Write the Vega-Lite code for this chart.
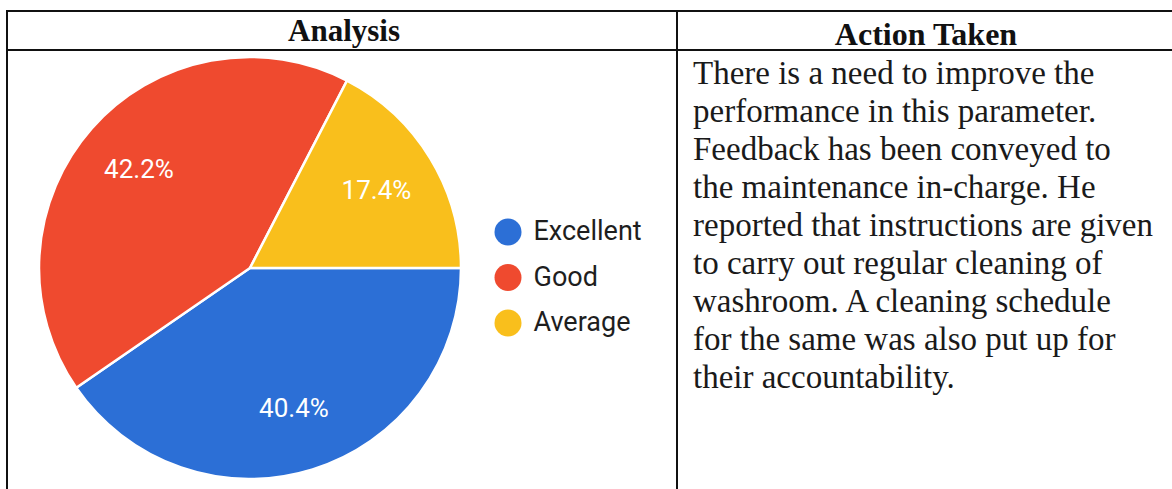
{
  "$schema": "https://vega.github.io/schema/vega-lite/v6.json",
  "padding": {"left": 6, "top": 10, "right": 0, "bottom": 0},
  "background": "white",
  "columns": 2,
  "spacing": 0,
  "bounds": "flush",
  "config": {"view": {"stroke": "#111111", "strokeWidth": 2}},
  "resolve": {
    "scale": {"color": "independent", "theta": "independent", "x": "independent", "y": "independent"},
    "legend": {"color": "independent"}
  },
  "concat": [
    {
      "width": 670,
      "height": 39,
      "data": {"values": [{"h": "Analysis"}]},
      "mark": {"type": "text", "font": "Liberation Serif", "fontWeight": "bold", "fontSize": 31, "color": "#111111", "baseline": "alphabetic"},
      "encoding": {"text": {"field": "h"}, "x": {"value": 337}, "y": {"value": 30}}
    },
    {
      "width": 500,
      "height": 39,
      "data": {"values": [{"h": "Action Taken"}]},
      "mark": {"type": "text", "font": "Liberation Serif", "fontWeight": "bold", "fontSize": 32, "color": "#111111", "baseline": "alphabetic"},
      "encoding": {"text": {"field": "h"}, "x": {"value": 249}, "y": {"value": 34}}
    },
    {
      "width": 670,
      "height": 446,
      "data": {
        "values": [
          {"cat": "Excellent", "pct": 0.404, "rank": 1},
          {"cat": "Good", "pct": 0.422, "rank": 2},
          {"cat": "Average", "pct": 0.174, "rank": 3}
        ]
      },
      "encoding": {
        "theta": {"field": "pct", "type": "quantitative", "stack": true, "scale": {"range": [1.5708, 7.854]}},
        "order": {"field": "rank", "type": "quantitative"},
        "color": {
          "field": "cat",
          "type": "nominal",
          "scale": {"domain": ["Excellent", "Good", "Average"], "range": ["#2c6fd6", "#ef4a2f", "#f9bf1c"]},
          "legend": {
            "orient": "none",
            "legendX": 487.5,
            "legendY": 168.5,
            "title": null,
            "symbolType": "circle",
            "symbolSize": 729,
            "symbolStrokeWidth": 0,
            "labelFont": "Roboto",
            "labelFontSize": 27,
            "labelColor": "#1e1e1e",
            "labelOffset": 12,
            "rowPadding": 17.5,
            "padding": 0
          }
        },
        "x": {"value": 243},
        "y": {"value": 218}
      },
      "layer": [
        {"mark": {"type": "arc", "outerRadius": 211, "stroke": "white", "strokeWidth": 2.5}},
        {
          "mark": {"type": "text", "radius": 148, "font": "Roboto", "fontSize": 26},
          "encoding": {
            "text": {"field": "pct", "type": "quantitative", "format": ".1%"},
            "detail": {"field": "cat"},
            "color": {"value": "white"}
          }
        }
      ]
    },
    {
      "width": 500,
      "height": 446,
      "data": {
        "values": [
          {"line": 1, "txt": "There is a need to improve the"},
          {"line": 2, "txt": "performance in this parameter."},
          {"line": 3, "txt": "Feedback has been conveyed to"},
          {"line": 4, "txt": "the maintenance in-charge. He"},
          {"line": 5, "txt": "reported that instructions are given"},
          {"line": 6, "txt": "to carry out regular cleaning of"},
          {"line": 7, "txt": "washroom. A cleaning schedule"},
          {"line": 8, "txt": "for the same was also put up for"},
          {"line": 9, "txt": "their accountability."}
        ]
      },
      "mark": {"type": "text", "align": "left", "baseline": "alphabetic", "font": "Liberation Serif", "fontSize": 33, "color": "#1a1a1a"},
      "encoding": {
        "x": {"value": 16},
        "y": {"field": "line", "type": "quantitative", "axis": null, "scale": {"domain": [0.113, 11.85], "reverse": true, "zero": false, "nice": false}},
        "text": {"field": "txt"}
      }
    }
  ]
}
